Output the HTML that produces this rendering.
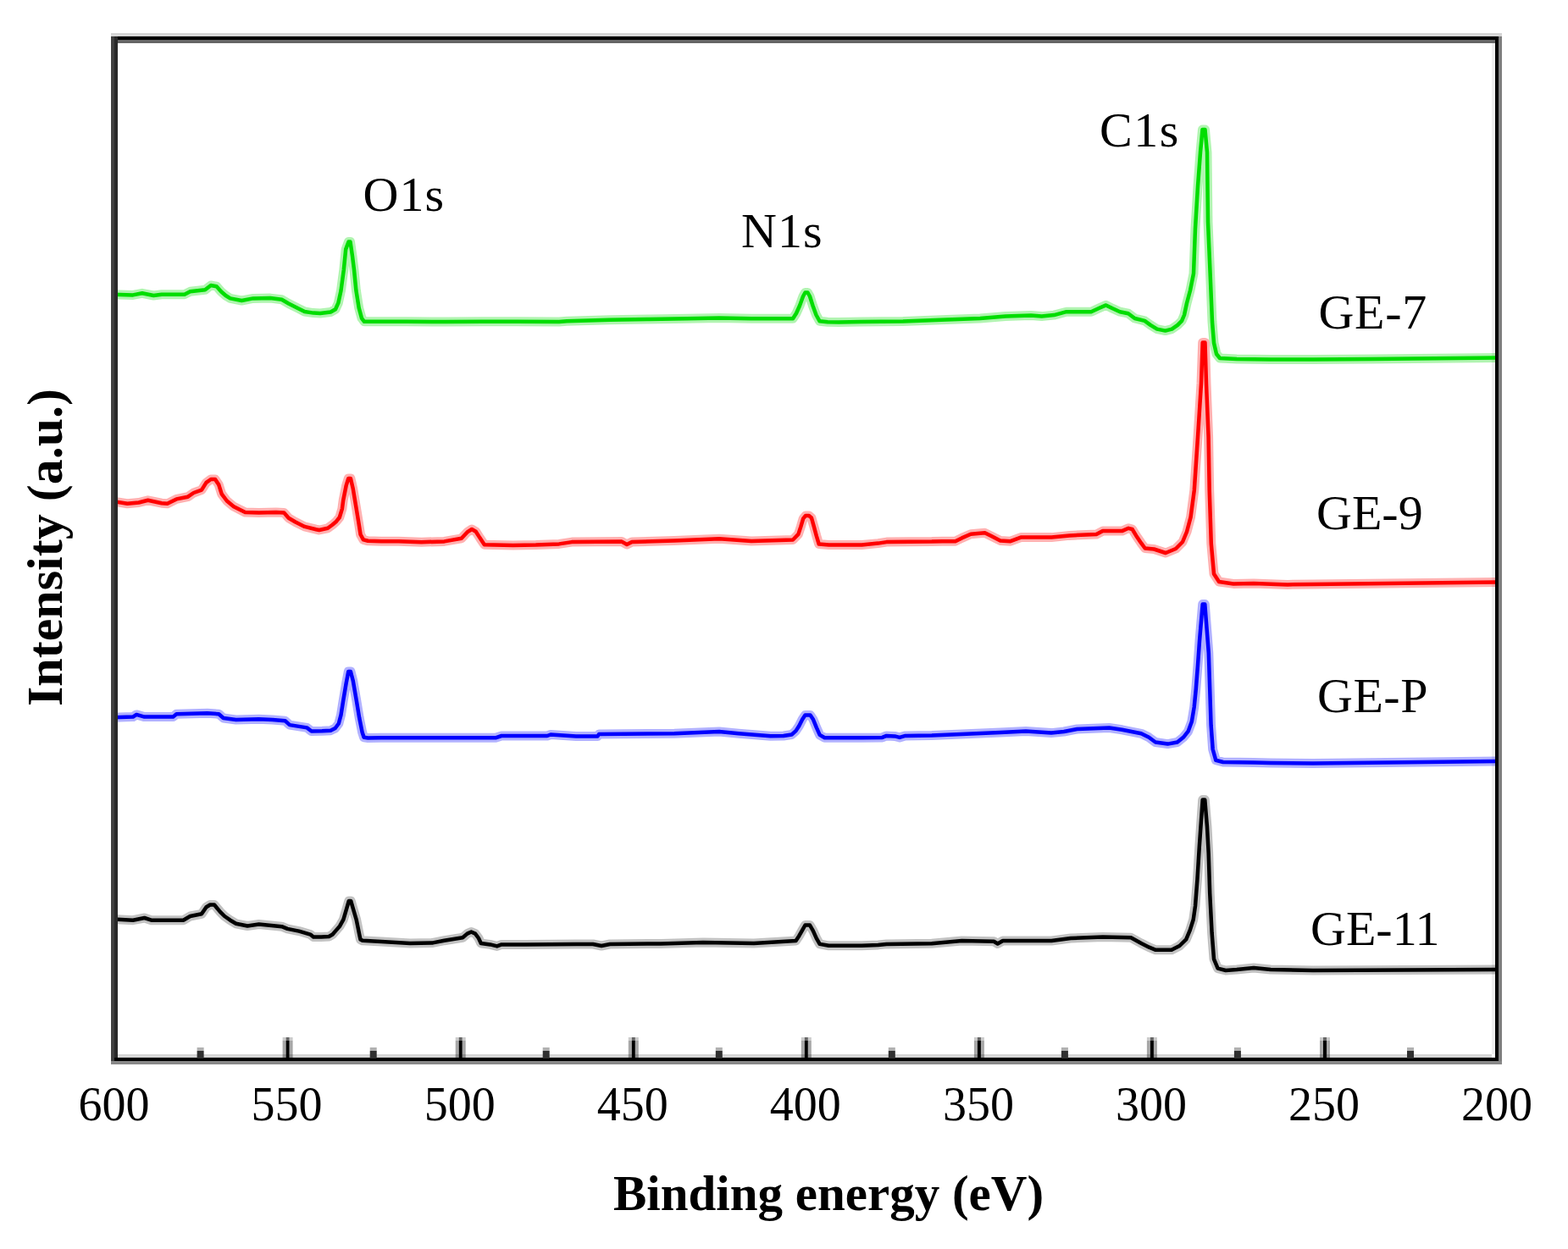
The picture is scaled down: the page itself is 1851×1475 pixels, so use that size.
<!DOCTYPE html>
<html><head><meta charset="utf-8"><title>XPS spectra</title>
<style>
html,body{margin:0;padding:0;background:#fff;}
body{width:1851px;height:1475px;overflow:hidden;}
svg{display:block;}
text{font-family:"Liberation Serif","Times New Roman",serif;fill:#000;}
</style></head><body>
<svg width="1851" height="1475" viewBox="0 0 1851 1475">
<rect width="1851" height="1475" fill="#fff"/>
<g>
<rect x="131" y="39" width="1642" height="4" fill="#d6d6d6"/>
<rect x="1761" y="51" width="4" height="1194" fill="#eee"/>
<rect x="139" y="1245" width="1622" height="4" fill="#d6d6d6"/>
</g>
<g fill="none" stroke-width="11" stroke-linejoin="round" stroke-linecap="butt" opacity="0.3">
<path stroke="#00dd00" d="M134,347.7 L157,348.4 L167.8,346.3 L181.3,349 L190.8,347.7 L217.8,347.7 L224.5,344.3 L242.1,342.3 L248.9,337 L255.6,338.2 L261,344.3 L266.4,349 L271.8,352.4 L285.3,355 L298.8,352.4 L319.1,352.1 L332.6,353.8 L340.7,358.5 L351.5,363.9 L359.6,368 L370,369.6 L378,370 L390.3,368.5 L396,365.2 L399.3,357.9 L402.5,343.2 L405.8,318.8 L408.2,294.4 L411.5,285.5 L413.5,285.5 L416,302.5 L418,318.8 L420.4,343.2 L423.7,363.6 L427,375.8 L430,379.8 L443,379.8 L450,379.7 L480,379.8 L526,380 L570,379.8 L610,379.7 L660,380 L669,379.3 L720,377.8 L766,377 L811,376.3 L849,375.6 L887,376.3 L924,376.3 L936,376.3 L940,370 L944,361 L948,350 L950.5,345.5 L953.5,345.5 L956,350 L959.5,361 L963.5,372 L967.6,379.3 L977,380.3 L990,380.5 L1016,380 L1066,379.6 L1111,377.8 L1157,376 L1187,373.6 L1217,372.5 L1229.7,373.6 L1244.3,372.1 L1258.9,368.2 L1288.1,368.2 L1297.8,363.8 L1305.6,360.4 L1313.4,364.3 L1322.1,368.2 L1331.9,370.2 L1339.6,376 L1351.3,378.9 L1358.1,383.8 L1365.9,388.6 L1375.6,390.6 L1383.4,388.6 L1390.2,383.8 L1395.1,378.9 L1398,372 L1401,358 L1405,343 L1409,323 L1411,270 L1414,220 L1417,180 L1419.5,153 L1422.5,153 L1425,180 L1426,262 L1428.6,323 L1431,380 L1433,405 L1436,418 L1440,423 L1460,424 L1500,424.4 L1550,424.4 L1620,424 L1767,422.4"/>
<path stroke="#ff0000" d="M134,592.1 L150.3,594.8 L163.8,593.5 L174.6,590.8 L190.8,594.2 L197.5,594.8 L208.3,589.4 L221.8,586.7 L228.6,582 L238,578.6 L243.5,569.9 L249,566 L254,566 L258.3,572.6 L261.7,583.4 L267.8,591.5 L275.9,598.2 L289.4,605 L305.6,605.6 L325.8,605 L335.3,605.5 L340.7,611.7 L348.8,616.5 L359.6,621.9 L373.1,625.2 L376.8,626 L386.9,623.8 L392.4,619.8 L397.1,615.7 L400.8,611 L403.9,600.8 L405.2,590.7 L408.6,573.7 L411.3,565 L413.9,565 L416.7,577 L420.1,597.4 L423.5,617.8 L425.6,631.3 L428.9,637.4 L434.4,638.8 L450,639.2 L470.5,639.2 L497.5,640.2 L524.5,639.4 L544.8,635.8 L551.6,628.4 L557,625 L561.7,627.7 L566.4,635.1 L571.8,643.2 L605.6,643.9 L632.6,643.5 L660,642.4 L675,640.1 L734,639.6 L740,643 L746,640 L796,638.6 L849,636.3 L887,639 L936,637.5 L942.4,630.9 L945.3,622.1 L948.2,612.4 L951,609 L955,609 L957.9,611.4 L960.9,622.1 L963.8,632.8 L966.7,642.5 L978.4,643.5 L1017.3,643.5 L1036.7,641.6 L1046.5,640.1 L1100,639.6 L1112.7,639.2 L1127.8,639.2 L1135.4,635.4 L1146,630.8 L1162.6,629.3 L1170.2,633.1 L1180.8,638.4 L1192.9,639.2 L1205,634.6 L1241.3,634.6 L1262.5,632.4 L1294.2,631.1 L1301.8,627.1 L1324.5,627.1 L1332.1,623.8 L1336.6,625 L1341.1,632.4 L1347.2,641.4 L1351.7,647.5 L1362.3,648.5 L1376,653 L1388,648 L1396,640 L1401,628 L1405.6,610.6 L1409.8,579 L1414,516 L1418,453 L1419.7,404.5 L1422.5,404.5 L1424,453 L1426.6,516 L1427.7,579 L1429.8,642 L1433,677.8 L1439,687 L1456,689.4 L1480,689 L1520,690.4 L1550,690 L1767,687.5"/>
<path stroke="#0000ff" d="M134,847.3 L157,846.6 L161.1,843.9 L170.5,846.6 L204.3,846.6 L208.3,843.2 L244.8,842.3 L258.3,843.2 L263.7,848 L278.6,850 L305.6,849.3 L321.8,850 L336.6,851.3 L342,856.1 L362.3,859.4 L367.7,863.5 L380.2,863.3 L390.3,862.7 L395.7,860 L399.8,854.5 L402.5,844.4 L405.2,827.4 L408.6,807.1 L411.3,793 L413.9,793 L416.7,803.7 L420.8,827.4 L424.2,847.8 L427.6,864.7 L429.6,870.8 L434.4,871.5 L450,871.3 L585,871.3 L592,869 L646,869 L650,867.5 L680,869.4 L705.4,869.6 L707,867.1 L796,866.3 L849,864 L872,866.3 L909.6,869.3 L925,869 L934.6,867.5 L939.5,863.1 L943.3,857.2 L947.2,849.5 L950.5,844.5 L956.5,844.5 L959.9,849.5 L963.8,859.2 L967.7,867.9 L973.5,871.3 L1017.3,871.3 L1041.6,870.9 L1046.5,868.9 L1056.2,869.4 L1062,870.9 L1068.8,868.9 L1100,868.5 L1135,867.1 L1181,865.1 L1211,863.6 L1241,865.6 L1256,864 L1271.5,861 L1309.4,859.5 L1324.5,861.8 L1347.2,866.3 L1356.3,870.8 L1364,876.5 L1378.4,878.6 L1389.8,876.5 L1396.9,870.8 L1402.6,863.7 L1406.8,852.3 L1409.7,835 L1411.8,813.8 L1414,785.4 L1416,757 L1419.7,713.5 L1422.3,713.5 L1424.6,742.7 L1426.8,771 L1428.2,813.8 L1429.6,856.5 L1431.7,885 L1435.3,897.8 L1443.8,900 L1480,900.5 L1500,901 L1550,901.6 L1767,899"/>
<path stroke="#000000" stroke-opacity="0.8" d="M134,1085.4 L157,1086.7 L170.5,1084 L178.6,1086.7 L216.4,1086.7 L224.5,1082 L238,1079.3 L243.5,1071.2 L248,1068.5 L253,1068.5 L259.7,1076.6 L265.1,1082 L271.8,1086.7 L278.6,1090.8 L292.1,1093.5 L305.6,1091.5 L332.6,1094.2 L339.3,1096.9 L352.9,1099.6 L366.4,1103.6 L370,1106.5 L379.2,1106.5 L388.3,1106 L392.6,1103.5 L396.8,1098.6 L401.1,1093.7 L405.4,1085.8 L409,1073.6 L411.8,1064 L414.2,1064 L417,1073.6 L420.6,1085.8 L422.5,1095 L424.3,1104 L425.5,1109.5 L428,1110.8 L450.3,1112 L484,1114 L511,1113.4 L524.5,1110.7 L546.2,1107.3 L551.6,1102.6 L556.3,1100.5 L561,1102.6 L565,1108 L567.8,1114 L578.6,1115.4 L586.7,1117.4 L592.1,1115.4 L620,1115.5 L680,1115 L700,1115 L710,1117 L720,1115 L780,1114.4 L830,1113 L890,1114 L939.5,1111 L943.3,1105.2 L947.2,1098.3 L950.5,1092.5 L956,1092.5 L959.9,1099.3 L963.8,1108.1 L967.7,1114.9 L978.4,1116.8 L1017.3,1116.8 L1036.7,1115.9 L1046.5,1114.9 L1100,1114.2 L1135.4,1111 L1173.2,1111.8 L1177.7,1114.5 L1183.8,1111 L1241.3,1111 L1264,1108 L1301.8,1106.5 L1335,1107.2 L1340,1110 L1347.2,1114 L1356.5,1118.7 L1364.3,1121.8 L1383,1121.8 L1392.4,1117 L1400.2,1109.3 L1404.8,1098.4 L1408.7,1086 L1411,1070 L1413.4,1039 L1415.8,1000 L1419.7,944.5 L1422.3,944.5 L1425,976.8 L1426.7,1008 L1428.2,1054.7 L1430.6,1101.5 L1433,1132.7 L1437.6,1143.6 L1447,1146 L1460,1145 L1480,1143 L1500,1145 L1550,1146 L1767,1145"/>
</g>
<g fill="none" stroke-width="4.5" stroke-linejoin="round" stroke-linecap="butt">
<path stroke="#00dd00" d="M134,347.7 L157,348.4 L167.8,346.3 L181.3,349 L190.8,347.7 L217.8,347.7 L224.5,344.3 L242.1,342.3 L248.9,337 L255.6,338.2 L261,344.3 L266.4,349 L271.8,352.4 L285.3,355 L298.8,352.4 L319.1,352.1 L332.6,353.8 L340.7,358.5 L351.5,363.9 L359.6,368 L370,369.6 L378,370 L390.3,368.5 L396,365.2 L399.3,357.9 L402.5,343.2 L405.8,318.8 L408.2,294.4 L411.5,285.5 L413.5,285.5 L416,302.5 L418,318.8 L420.4,343.2 L423.7,363.6 L427,375.8 L430,379.8 L443,379.8 L450,379.7 L480,379.8 L526,380 L570,379.8 L610,379.7 L660,380 L669,379.3 L720,377.8 L766,377 L811,376.3 L849,375.6 L887,376.3 L924,376.3 L936,376.3 L940,370 L944,361 L948,350 L950.5,345.5 L953.5,345.5 L956,350 L959.5,361 L963.5,372 L967.6,379.3 L977,380.3 L990,380.5 L1016,380 L1066,379.6 L1111,377.8 L1157,376 L1187,373.6 L1217,372.5 L1229.7,373.6 L1244.3,372.1 L1258.9,368.2 L1288.1,368.2 L1297.8,363.8 L1305.6,360.4 L1313.4,364.3 L1322.1,368.2 L1331.9,370.2 L1339.6,376 L1351.3,378.9 L1358.1,383.8 L1365.9,388.6 L1375.6,390.6 L1383.4,388.6 L1390.2,383.8 L1395.1,378.9 L1398,372 L1401,358 L1405,343 L1409,323 L1411,270 L1414,220 L1417,180 L1419.5,153 L1422.5,153 L1425,180 L1426,262 L1428.6,323 L1431,380 L1433,405 L1436,418 L1440,423 L1460,424 L1500,424.4 L1550,424.4 L1620,424 L1767,422.4"/>
<path stroke="#ff0000" d="M134,592.1 L150.3,594.8 L163.8,593.5 L174.6,590.8 L190.8,594.2 L197.5,594.8 L208.3,589.4 L221.8,586.7 L228.6,582 L238,578.6 L243.5,569.9 L249,566 L254,566 L258.3,572.6 L261.7,583.4 L267.8,591.5 L275.9,598.2 L289.4,605 L305.6,605.6 L325.8,605 L335.3,605.5 L340.7,611.7 L348.8,616.5 L359.6,621.9 L373.1,625.2 L376.8,626 L386.9,623.8 L392.4,619.8 L397.1,615.7 L400.8,611 L403.9,600.8 L405.2,590.7 L408.6,573.7 L411.3,565 L413.9,565 L416.7,577 L420.1,597.4 L423.5,617.8 L425.6,631.3 L428.9,637.4 L434.4,638.8 L450,639.2 L470.5,639.2 L497.5,640.2 L524.5,639.4 L544.8,635.8 L551.6,628.4 L557,625 L561.7,627.7 L566.4,635.1 L571.8,643.2 L605.6,643.9 L632.6,643.5 L660,642.4 L675,640.1 L734,639.6 L740,643 L746,640 L796,638.6 L849,636.3 L887,639 L936,637.5 L942.4,630.9 L945.3,622.1 L948.2,612.4 L951,609 L955,609 L957.9,611.4 L960.9,622.1 L963.8,632.8 L966.7,642.5 L978.4,643.5 L1017.3,643.5 L1036.7,641.6 L1046.5,640.1 L1100,639.6 L1112.7,639.2 L1127.8,639.2 L1135.4,635.4 L1146,630.8 L1162.6,629.3 L1170.2,633.1 L1180.8,638.4 L1192.9,639.2 L1205,634.6 L1241.3,634.6 L1262.5,632.4 L1294.2,631.1 L1301.8,627.1 L1324.5,627.1 L1332.1,623.8 L1336.6,625 L1341.1,632.4 L1347.2,641.4 L1351.7,647.5 L1362.3,648.5 L1376,653 L1388,648 L1396,640 L1401,628 L1405.6,610.6 L1409.8,579 L1414,516 L1418,453 L1419.7,404.5 L1422.5,404.5 L1424,453 L1426.6,516 L1427.7,579 L1429.8,642 L1433,677.8 L1439,687 L1456,689.4 L1480,689 L1520,690.4 L1550,690 L1767,687.5"/>
<path stroke="#0000ff" d="M134,847.3 L157,846.6 L161.1,843.9 L170.5,846.6 L204.3,846.6 L208.3,843.2 L244.8,842.3 L258.3,843.2 L263.7,848 L278.6,850 L305.6,849.3 L321.8,850 L336.6,851.3 L342,856.1 L362.3,859.4 L367.7,863.5 L380.2,863.3 L390.3,862.7 L395.7,860 L399.8,854.5 L402.5,844.4 L405.2,827.4 L408.6,807.1 L411.3,793 L413.9,793 L416.7,803.7 L420.8,827.4 L424.2,847.8 L427.6,864.7 L429.6,870.8 L434.4,871.5 L450,871.3 L585,871.3 L592,869 L646,869 L650,867.5 L680,869.4 L705.4,869.6 L707,867.1 L796,866.3 L849,864 L872,866.3 L909.6,869.3 L925,869 L934.6,867.5 L939.5,863.1 L943.3,857.2 L947.2,849.5 L950.5,844.5 L956.5,844.5 L959.9,849.5 L963.8,859.2 L967.7,867.9 L973.5,871.3 L1017.3,871.3 L1041.6,870.9 L1046.5,868.9 L1056.2,869.4 L1062,870.9 L1068.8,868.9 L1100,868.5 L1135,867.1 L1181,865.1 L1211,863.6 L1241,865.6 L1256,864 L1271.5,861 L1309.4,859.5 L1324.5,861.8 L1347.2,866.3 L1356.3,870.8 L1364,876.5 L1378.4,878.6 L1389.8,876.5 L1396.9,870.8 L1402.6,863.7 L1406.8,852.3 L1409.7,835 L1411.8,813.8 L1414,785.4 L1416,757 L1419.7,713.5 L1422.3,713.5 L1424.6,742.7 L1426.8,771 L1428.2,813.8 L1429.6,856.5 L1431.7,885 L1435.3,897.8 L1443.8,900 L1480,900.5 L1500,901 L1550,901.6 L1767,899"/>
<path stroke="#000000" d="M134,1085.4 L157,1086.7 L170.5,1084 L178.6,1086.7 L216.4,1086.7 L224.5,1082 L238,1079.3 L243.5,1071.2 L248,1068.5 L253,1068.5 L259.7,1076.6 L265.1,1082 L271.8,1086.7 L278.6,1090.8 L292.1,1093.5 L305.6,1091.5 L332.6,1094.2 L339.3,1096.9 L352.9,1099.6 L366.4,1103.6 L370,1106.5 L379.2,1106.5 L388.3,1106 L392.6,1103.5 L396.8,1098.6 L401.1,1093.7 L405.4,1085.8 L409,1073.6 L411.8,1064 L414.2,1064 L417,1073.6 L420.6,1085.8 L422.5,1095 L424.3,1104 L425.5,1109.5 L428,1110.8 L450.3,1112 L484,1114 L511,1113.4 L524.5,1110.7 L546.2,1107.3 L551.6,1102.6 L556.3,1100.5 L561,1102.6 L565,1108 L567.8,1114 L578.6,1115.4 L586.7,1117.4 L592.1,1115.4 L620,1115.5 L680,1115 L700,1115 L710,1117 L720,1115 L780,1114.4 L830,1113 L890,1114 L939.5,1111 L943.3,1105.2 L947.2,1098.3 L950.5,1092.5 L956,1092.5 L959.9,1099.3 L963.8,1108.1 L967.7,1114.9 L978.4,1116.8 L1017.3,1116.8 L1036.7,1115.9 L1046.5,1114.9 L1100,1114.2 L1135.4,1111 L1173.2,1111.8 L1177.7,1114.5 L1183.8,1111 L1241.3,1111 L1264,1108 L1301.8,1106.5 L1335,1107.2 L1340,1110 L1347.2,1114 L1356.5,1118.7 L1364.3,1121.8 L1383,1121.8 L1392.4,1117 L1400.2,1109.3 L1404.8,1098.4 L1408.7,1086 L1411,1070 L1413.4,1039 L1415.8,1000 L1419.7,944.5 L1422.3,944.5 L1425,976.8 L1426.7,1008 L1428.2,1054.7 L1430.6,1101.5 L1433,1132.7 L1437.6,1143.6 L1447,1146 L1460,1145 L1480,1143 L1500,1145 L1550,1146 L1767,1145"/>
</g>
<!-- frame -->
<g>
<rect x="131" y="43" width="1638" height="4" fill="#000"/>
<rect x="139" y="47" width="1626" height="4" fill="#666"/>
<rect x="131" y="43" width="4" height="1214" fill="#404040"/>
<rect x="135" y="43" width="4" height="1210" fill="#282828"/>
<rect x="1765" y="43" width="4" height="1210" fill="#000"/>
<rect x="1769" y="43" width="4" height="1214" fill="#808080"/>
<rect x="135" y="1249" width="1634" height="4" fill="#000"/>
<rect x="131" y="1253" width="1642" height="4" fill="#888"/>
</g>
<g>
<rect x="232.6" y="1237" width="8" height="4" fill="#b0b0b0"/><rect x="232.6" y="1241" width="8" height="9" fill="#303030"/><rect x="333.6" y="1225" width="4" height="4" fill="#cccccc"/><rect x="341.6" y="1225" width="4" height="4" fill="#cccccc"/><rect x="337.6" y="1225" width="4" height="4" fill="#666666"/><rect x="333.6" y="1229" width="4" height="16" fill="#a8a8a8"/><rect x="341.6" y="1229" width="4" height="16" fill="#a8a8a8"/><rect x="333.6" y="1245" width="4" height="4" fill="#8c8c8c"/><rect x="341.6" y="1245" width="4" height="4" fill="#8c8c8c"/><rect x="337.6" y="1229" width="4" height="21" fill="#000"/><rect x="436.7" y="1237" width="8" height="4" fill="#b0b0b0"/><rect x="436.7" y="1241" width="8" height="9" fill="#303030"/><rect x="537.7" y="1225" width="4" height="4" fill="#cccccc"/><rect x="545.7" y="1225" width="4" height="4" fill="#cccccc"/><rect x="541.7" y="1225" width="4" height="4" fill="#666666"/><rect x="537.7" y="1229" width="4" height="16" fill="#a8a8a8"/><rect x="545.7" y="1229" width="4" height="16" fill="#a8a8a8"/><rect x="537.7" y="1245" width="4" height="4" fill="#8c8c8c"/><rect x="545.7" y="1245" width="4" height="4" fill="#8c8c8c"/><rect x="541.7" y="1229" width="4" height="21" fill="#000"/><rect x="640.7" y="1237" width="8" height="4" fill="#b0b0b0"/><rect x="640.7" y="1241" width="8" height="9" fill="#303030"/><rect x="741.8" y="1225" width="4" height="4" fill="#cccccc"/><rect x="749.8" y="1225" width="4" height="4" fill="#cccccc"/><rect x="745.8" y="1225" width="4" height="4" fill="#666666"/><rect x="741.8" y="1229" width="4" height="16" fill="#a8a8a8"/><rect x="749.8" y="1229" width="4" height="16" fill="#a8a8a8"/><rect x="741.8" y="1245" width="4" height="4" fill="#8c8c8c"/><rect x="749.8" y="1245" width="4" height="4" fill="#8c8c8c"/><rect x="745.8" y="1229" width="4" height="21" fill="#000"/><rect x="844.8" y="1237" width="8" height="4" fill="#b0b0b0"/><rect x="844.8" y="1241" width="8" height="9" fill="#303030"/><rect x="945.8" y="1225" width="4" height="4" fill="#cccccc"/><rect x="953.8" y="1225" width="4" height="4" fill="#cccccc"/><rect x="949.8" y="1225" width="4" height="4" fill="#666666"/><rect x="945.8" y="1229" width="4" height="16" fill="#a8a8a8"/><rect x="953.8" y="1229" width="4" height="16" fill="#a8a8a8"/><rect x="945.8" y="1245" width="4" height="4" fill="#8c8c8c"/><rect x="953.8" y="1245" width="4" height="4" fill="#8c8c8c"/><rect x="949.8" y="1229" width="4" height="21" fill="#000"/><rect x="1048.8" y="1237" width="8" height="4" fill="#b0b0b0"/><rect x="1048.8" y="1241" width="8" height="9" fill="#303030"/><rect x="1149.9" y="1225" width="4" height="4" fill="#cccccc"/><rect x="1157.9" y="1225" width="4" height="4" fill="#cccccc"/><rect x="1153.9" y="1225" width="4" height="4" fill="#666666"/><rect x="1149.9" y="1229" width="4" height="16" fill="#a8a8a8"/><rect x="1157.9" y="1229" width="4" height="16" fill="#a8a8a8"/><rect x="1149.9" y="1245" width="4" height="4" fill="#8c8c8c"/><rect x="1157.9" y="1245" width="4" height="4" fill="#8c8c8c"/><rect x="1153.9" y="1229" width="4" height="21" fill="#000"/><rect x="1252.9" y="1237" width="8" height="4" fill="#b0b0b0"/><rect x="1252.9" y="1241" width="8" height="9" fill="#303030"/><rect x="1353.9" y="1225" width="4" height="4" fill="#cccccc"/><rect x="1361.9" y="1225" width="4" height="4" fill="#cccccc"/><rect x="1357.9" y="1225" width="4" height="4" fill="#666666"/><rect x="1353.9" y="1229" width="4" height="16" fill="#a8a8a8"/><rect x="1361.9" y="1229" width="4" height="16" fill="#a8a8a8"/><rect x="1353.9" y="1245" width="4" height="4" fill="#8c8c8c"/><rect x="1361.9" y="1245" width="4" height="4" fill="#8c8c8c"/><rect x="1357.9" y="1229" width="4" height="21" fill="#000"/><rect x="1456.9" y="1237" width="8" height="4" fill="#b0b0b0"/><rect x="1456.9" y="1241" width="8" height="9" fill="#303030"/><rect x="1558.0" y="1225" width="4" height="4" fill="#cccccc"/><rect x="1566.0" y="1225" width="4" height="4" fill="#cccccc"/><rect x="1562.0" y="1225" width="4" height="4" fill="#666666"/><rect x="1558.0" y="1229" width="4" height="16" fill="#a8a8a8"/><rect x="1566.0" y="1229" width="4" height="16" fill="#a8a8a8"/><rect x="1558.0" y="1245" width="4" height="4" fill="#8c8c8c"/><rect x="1566.0" y="1245" width="4" height="4" fill="#8c8c8c"/><rect x="1562.0" y="1229" width="4" height="21" fill="#000"/><rect x="1661.0" y="1237" width="8" height="4" fill="#b0b0b0"/><rect x="1661.0" y="1241" width="8" height="9" fill="#303030"/>
</g>
<g font-size="56" text-anchor="middle">
<text x="134.6" y="1322.5">600</text><text x="338.6" y="1322.5">550</text><text x="542.7" y="1322.5">500</text><text x="746.8" y="1322.5">450</text><text x="950.8" y="1322.5">400</text><text x="1154.9" y="1322.5">350</text><text x="1358.9" y="1322.5">300</text><text x="1563.0" y="1322.5">250</text><text x="1767.0" y="1322.5">200</text>
</g>
<g font-size="58">
<text x="1298" y="172.5" letter-spacing="1.5">C1s</text>
<text x="428.5" y="248.5" letter-spacing="1">O1s</text>
<text x="875" y="292" letter-spacing="1">N1s</text>
<text x="1556.5" y="388" letter-spacing="0.7">GE-7</text>
<text x="1554" y="625">GE-9</text>
<text x="1555" y="841" letter-spacing="0.5">GE-P</text>
<text x="1547" y="1115.5">GE-11</text>
</g>
<text font-size="60" font-weight="bold" transform="translate(72.5,834) rotate(-90)">Intensity (a.u.)</text>
<text font-size="59" font-weight="bold" x="724" y="1429">Binding energy (eV)</text>
</svg>
</body></html>
